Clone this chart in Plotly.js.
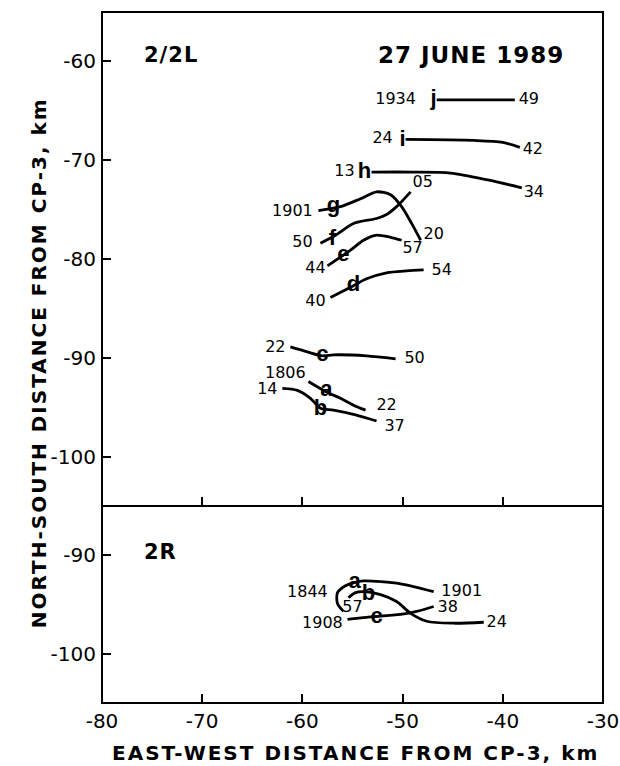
<!DOCTYPE html>
<html><head><meta charset="utf-8">
<script src="https://cdn.plot.ly/plotly-3.0.1.min.js"></script>
<style>html,body{margin:0;padding:0;background:#fff}</style>
</head><body><div id="chart" style="width:620px;height:766px"></div>
<script>
// ---------- Panel 2/2L (top) tracks ----------
const j_x = [-46.6, -42.0, -38.8];
const j_y = [-63.9, -63.9, -63.9];
const i_x = [-49.7, -42.9, -40.0, -38.3];
const i_y = [-67.9, -68.0, -68.2, -68.7];
const h_x = [-53.1, -49.0, -45.2, -41.5, -38.1];
const h_y = [-71.2, -71.2, -71.3, -72.0, -72.8];
const g_x = [-58.4, -56.2, -54.2, -52.6, -51.2, -50.1, -49.1, -48.2];
const g_y = [-75.1, -74.7, -73.9, -73.2, -73.5, -74.7, -76.4, -78.1];
const f_x = [-58.2, -56.7, -54.9, -52.6, -51.6, -50.6, -49.2];
const f_y = [-78.4, -77.6, -76.4, -75.9, -75.5, -74.7, -73.2];
const e_x = [-57.5, -55.2, -53.9, -52.7, -51.2, -50.1];
const e_y = [-80.7, -79.1, -78.1, -77.6, -77.8, -78.1];
const d_x = [-57.2, -54.9, -53.6, -51.6, -49.6, -47.9];
const d_y = [-83.9, -82.7, -82.0, -81.4, -81.2, -81.1];
const c_x = [-61.2, -59.5, -58.0, -56.9, -53.6, -50.7];
const c_y = [-88.9, -89.4, -89.8, -89.7, -89.8, -90.1];
const a_x = [-59.4, -57.7, -56.2, -54.9, -53.7];
const a_y = [-92.4, -93.4, -94.1, -94.8, -95.3];
const b_x = [-62.0, -60.5, -59.2, -58.2, -56.9, -54.6, -52.6];
const b_y = [-93.1, -93.3, -94.1, -95.1, -95.3, -95.8, -96.4];

// letters on the tracks (top panel)
const topLetters   = ['j', 'i', 'h', 'g', 'f', 'e', 'd', 'c', 'a', 'b'];
const topLetterX   = [-46.9, -50.0, -53.8, -56.9, -57.0, -55.9, -54.9, -58.0, -57.6, -58.2];
const topLetterY   = [-63.9, -68.0, -71.2, -74.7, -78.0, -79.6, -82.7, -89.8, -93.3, -95.2];
// start / end times (top panel)
const topTimes     = ['1934', '49', '24', '42', '13', '34', '1901', '20', '50', '05', '44', '57', '40', '54', '22', '50', '1806', '22', '14', '37'];
const topTimeX     = [-50.7, -37.4, -52.0, -37.0, -55.8, -36.9, -61.0, -46.9, -60.0, -48.0, -58.7, -49.0, -58.7, -46.1, -62.7, -48.8, -61.7, -51.6, -63.5, -50.8];
const topTimeY     = [-63.9, -63.9, -67.9, -69.0, -71.2, -73.3, -75.2, -77.6, -78.4, -72.3, -81.0, -79.0, -84.4, -81.2, -89.0, -90.1, -91.6, -94.9, -93.3, -97.0];

// ---------- Panel 2R (bottom) tracks ----------
const ra_x = [-55.9, -56.5, -56.5, -55.7, -54.9, -53.9, -50.2, -46.9];
const ra_y = [-95.7, -94.9, -93.8, -93.1, -92.8, -92.6, -92.9, -93.7];
const rb_x = [-55.4, -54.7, -53.9, -52.2, -50.6, -49.2, -47.6, -44.9, -41.9];
const rb_y = [-94.3, -93.8, -93.7, -94.0, -94.7, -95.9, -96.7, -96.9, -96.8];
const rc_x = [-55.5, -53.6, -50.2, -48.6, -46.9];
const rc_y = [-96.5, -96.3, -96.0, -95.7, -95.2];

const botLetters = ['a', 'b', 'c'];
const botLetterX = [-54.8, -53.4, -52.6];
const botLetterY = [-92.8, -94.0, -96.3];
const botTimes   = ['1844', '1901', '57', '24', '1908', '38'];
const botTimeX   = [-59.5, -44.1, -55.0, -40.6, -58.0, -45.5];
const botTimeY   = [-93.8, -93.7, -95.4, -96.9, -97.0, -95.4];

const topTicks = [-100, -90, -80, -70, -60];
const botTicks = [-100, -90];
const xTicks   = [-80, -70, -60, -50, -40, -30];
const lbl = v => '-' + Math.abs(v);

const lineStyle = {color: '#000', width: 2.8, shape: 'spline', smoothing: 0.8};
function track(x, y, xa, ya) {
  return {x: x, y: y, xaxis: xa, yaxis: ya, type: 'scatter', mode: 'lines',
          line: lineStyle, hoverinfo: 'skip', showlegend: false};
}
function texts(t, x, y, xa, ya, font) {
  return {x: x, y: y, text: t, xaxis: xa, yaxis: ya, type: 'scatter', mode: 'text',
          textposition: 'middle center', textfont: font, hoverinfo: 'skip', showlegend: false, cliponaxis: false};
}
const timeFont = {family: 'DejaVu Sans', size: 16, color: '#000'};
const letterFont = {family: 'Liberation Sans', size: 22, color: '#000', weight: 'bold'};

const data = [
  track(j_x, j_y, 'x', 'y'), track(i_x, i_y, 'x', 'y'), track(h_x, h_y, 'x', 'y'),
  track(g_x, g_y, 'x', 'y'), track(f_x, f_y, 'x', 'y'), track(e_x, e_y, 'x', 'y'),
  track(d_x, d_y, 'x', 'y'), track(c_x, c_y, 'x', 'y'), track(a_x, a_y, 'x', 'y'),
  track(b_x, b_y, 'x', 'y'),
  track(ra_x, ra_y, 'x2', 'y2'), track(rb_x, rb_y, 'x2', 'y2'), track(rc_x, rc_y, 'x2', 'y2'),
  texts(topLetters, topLetterX, topLetterY, 'x', 'y', letterFont),
  texts(topTimes, topTimeX, topTimeY, 'x', 'y', timeFont),
  texts(botLetters, botLetterX, botLetterY, 'x2', 'y2', letterFont),
  texts(botTimes, botTimeX, botTimeY, 'x2', 'y2', timeFont)
];

const tickFont = {family: 'DejaVu Sans', size: 20, color: '#000'};
const split = 197 / 691;
const axisCommon = {showgrid: false, zeroline: false, showline: false, ticks: 'inside',
                    ticklen: 9, tickwidth: 2, tickcolor: '#000', tickfont: tickFont, fixedrange: true};
const titleFont = {family: 'DejaVu Sans', size: 20, color: '#000'};
const sp = s => '<span style="letter-spacing:2px"><b>' + s + '</b></span>';

const layout = {
  width: 620, height: 766,
  margin: {l: 102, r: 17, t: 12, b: 63},
  paper_bgcolor: '#fff', plot_bgcolor: '#fff',
  showlegend: false,
  xaxis: Object.assign({}, axisCommon, {anchor: 'y', range: [-80, -30], tickvals: xTicks, showticklabels: false}),
  yaxis: Object.assign({}, axisCommon, {anchor: 'x', domain: [split, 1], range: [-105, -55],
          tickvals: topTicks, ticktext: topTicks.map(lbl), ticklabelstandoff: 5}),
  xaxis2: Object.assign({}, axisCommon, {anchor: 'y2', range: [-80, -30], matches: 'x', tickvals: xTicks,
          ticktext: xTicks.map(lbl), ticklabelstandoff: 4}),
  yaxis2: Object.assign({}, axisCommon, {anchor: 'x2', domain: [0, split], range: [-105, -85],
          tickvals: botTicks, ticktext: botTicks.map(lbl), ticklabelstandoff: 5}),
  shapes: [
    {type: 'rect', xref: 'paper', yref: 'paper', x0: 0, x1: 1, y0: 0, y1: 1, line: {color: '#000', width: 2}},
    {type: 'line', xref: 'paper', yref: 'paper', x0: 0, x1: 1, y0: split, y1: split, line: {color: '#000', width: 2}}
  ],
  annotations: [
    {xref: 'x', yref: 'y', x: -76.0, y: -59.4, text: '<span style="letter-spacing:1px"><b>2/2L</b></span>', showarrow: false, xanchor: 'left',
     font: {family: 'DejaVu Sans', size: 21, color: '#000'}},
    {xref: 'x', yref: 'y', x: -52.7, y: -59.4, text: '<span style="letter-spacing:1px"><b>27 JUNE 1989</b></span>', showarrow: false, xanchor: 'left',
     font: {family: 'DejaVu Sans', size: 23, color: '#000'}},
    {xref: 'x2', yref: 'y2', x: -76.0, y: -89.7, text: '<span style="letter-spacing:1px"><b>2R</b></span>', showarrow: false, xanchor: 'left',
     font: {family: 'DejaVu Sans', size: 21, color: '#000'}},
    {xref: 'paper', yref: 'paper', x: 0.505, y: -0.072, yanchor: 'middle', showarrow: false,
     text: sp('EAST-WEST DISTANCE FROM CP-3, km'), font: titleFont},
    {xref: 'paper', yref: 'paper', x: -0.154, y: 0.493, textangle: -90, showarrow: false,
     text: sp('NORTH-SOUTH DISTANCE FROM CP-3, km'), font: titleFont}
  ]
};

Plotly.newPlot('chart', data, layout, {staticPlot: true, displayModeBar: false});
</script>
</body></html>
